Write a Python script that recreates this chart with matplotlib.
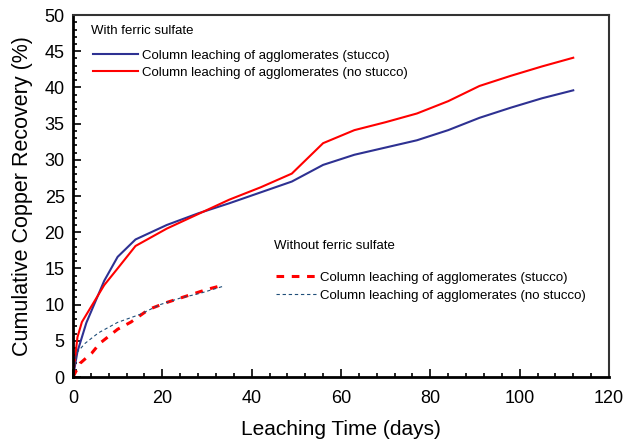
import matplotlib
matplotlib.use('Agg')
import matplotlib.pyplot as plt
from matplotlib.ticker import MultipleLocator

plt.rcParams['font.family'] = ['Liberation Sans', 'DejaVu Sans']

# with ferric sulfate
days_fe = [0, 1, 3, 7, 10, 14, 21, 28, 35, 42, 49, 56, 63, 70, 77, 84, 91, 98, 105, 112]
stucco_fe = [0, 3.5, 7.5, 13.3, 16.6, 19.0, 21.0, 22.6, 24.0, 25.5, 27.0, 29.3, 30.7, 31.7, 32.7, 34.1, 35.8, 37.2, 38.5, 39.6]
days_fe2 = [0, 1, 2, 7, 10, 14, 21, 28, 35, 42, 49, 56, 63, 70, 77, 84, 91, 98, 105, 112]
nostucco_fe = [0, 5.5, 7.6, 12.7, 15.0, 18.1, 20.5, 22.5, 24.5, 26.2, 28.1, 32.3, 34.1, 35.2, 36.4, 38.1, 40.2, 41.6, 42.9, 44.1]

# without ferric sulfate
days_nofe = [0, 1.6, 4.2, 6, 10, 13, 17, 21, 25.5, 30, 33.7]
stucco_nofe = [0, 1.9, 3.3, 4.65, 6.6, 7.6, 9.35, 10.3, 11.2, 12.1, 12.7]
days_nofe2 = [0, 0.8, 2.7, 5.7, 10, 15, 19.5, 24, 28.4, 33.7]
nostucco_nofe = [0, 3.3, 4.65, 6.1, 7.55, 8.65, 10.0, 10.9, 11.55, 12.55]

lbl_s = 'Column leaching of agglomerates (stucco)'
lbl_n = 'Column leaching of agglomerates (no stucco)'

fig = plt.figure(figsize=(6.28, 4.42), dpi=100)
ax = fig.add_axes([0.1162, 0.147, 0.8535, 0.819])

l1, = ax.plot(days_fe, stucco_fe, color='#2e3192', lw=1.5, label=lbl_s)
l2, = ax.plot(days_fe2, nostucco_fe, color='#ff0000', lw=1.5, label=lbl_n)
l3, = ax.plot(days_nofe, stucco_nofe, color='#ff0000', lw=2.2, dashes=(2.5, 2.5), label=lbl_s)
l4, = ax.plot(days_nofe2, nostucco_nofe, color='#1f4e79', lw=0.8, dashes=(3, 2.5), label=lbl_n)

ax.set_xlim(0, 120)
ax.set_ylim(0, 50)
ax.xaxis.set_major_locator(MultipleLocator(20))
ax.xaxis.set_minor_locator(MultipleLocator(4))
ax.yaxis.set_major_locator(MultipleLocator(5))
ax.yaxis.set_minor_locator(MultipleLocator(1))
ax.tick_params(which='both', direction='in', top=False, right=False, labelsize=13, width=1.2)
ax.tick_params(which='major', length=6)
ax.tick_params(axis='x', which='major', pad=9)
ax.tick_params(axis='y', which='major', pad=6)
ax.tick_params(which='minor', length=3)

for s in ['left', 'bottom']:
    ax.spines[s].set_linewidth(2)
for s in ['top', 'right']:
    ax.spines[s].set_linewidth(1.5)
    ax.spines[s].set_color('#333333')

ax.set_xlabel('Leaching Time (days)', fontsize=15, labelpad=10)
ax.set_ylabel('Cumulative Copper Recovery (%)', fontsize=15.5, labelpad=8)

ax.text(0.034, 0.955, 'With ferric sulfate', transform=ax.transAxes, fontsize=9.5, va='center')
leg1 = ax.legend(handles=[l1, l2], loc='upper left', bbox_to_anchor=(0.02, 0.93),
                 frameon=False, fontsize=9.5, handlelength=3.45, handletextpad=0.25,
                 labelspacing=0.35, borderpad=0.2)
ax.add_artist(leg1)

ax.text(0.375, 0.362, 'Without ferric sulfate', transform=ax.transAxes, fontsize=9.5, va='center')
ax.legend(handles=[l3, l4], loc='upper left', bbox_to_anchor=(0.3615, 0.316),
          frameon=False, fontsize=9.5, handlelength=3.2, handletextpad=0.12,
          labelspacing=0.42, borderpad=0.2)

fig.savefig('out.png', dpi=100)
